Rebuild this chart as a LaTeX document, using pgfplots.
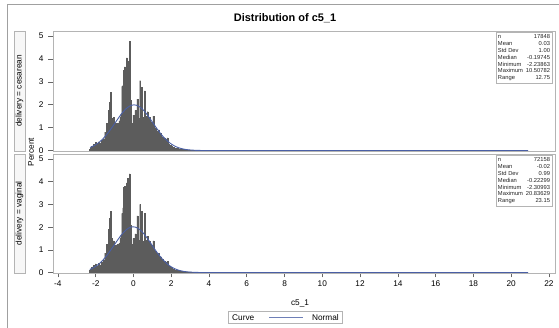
\documentclass[border=0pt]{standalone}
\usepackage{fontspec}
\setmainfont{Liberation Sans}
\usepackage{pgfplots}
\usepackage{pgfplotstable}
\pgfplotsset{compat=1.18}

\definecolor{barfill}{HTML}{383838}
\definecolor{baredge}{HTML}{5C5C5C}
\definecolor{fitblue}{HTML}{4A5FA5}
\definecolor{wallgray}{HTML}{B4B4B4}
\definecolor{framegray}{HTML}{A0A0A0}

% Histogram of c5_1 (percent per 0.05-wide bin), delivery = cesarean
\pgfplotstableread{
x y
-2.30 0.06
-2.25 0.12
-2.20 0.18
-2.15 0.20
-2.10 0.28
-2.05 0.22
-2.00 0.35
-1.95 0.28
-1.90 0.25
-1.85 0.38
-1.80 0.32
-1.75 0.28
-1.70 0.45
-1.65 0.35
-1.60 0.50
-1.55 0.42
-1.50 0.80
-1.45 0.60
-1.40 1.20
-1.35 0.95
-1.30 1.75
-1.25 2.10
-1.20 2.55
-1.15 1.40
-1.10 1.00
-1.05 1.45
-1.00 1.05
-0.95 1.20
-0.90 0.95
-0.85 1.20
-0.80 1.05
-0.75 1.30
-0.70 1.45
-0.65 1.60
-0.60 2.80
-0.55 2.85
-0.50 3.50
-0.45 3.65
-0.40 2.60
-0.35 4.05
-0.30 3.90
-0.25 3.70
-0.20 4.78
-0.15 2.20
-0.10 1.20
-0.05 0.90
0.00 1.55
0.05 1.20
0.10 1.75
0.15 1.10
0.20 2.25
0.25 1.40
0.30 1.30
0.35 3.05
0.40 2.60
0.45 2.75
0.50 1.45
0.55 1.20
0.60 2.60
0.65 1.50
0.70 1.00
0.75 1.70
0.80 1.20
0.85 1.45
0.90 1.00
0.95 1.25
1.00 0.95
1.05 1.50
1.10 0.80
1.15 1.00
1.20 0.70
1.25 0.85
1.30 0.75
1.35 0.90
1.40 0.60
1.45 0.75
1.50 0.55
1.55 0.60
1.60 0.45
1.65 0.55
1.70 0.40
1.75 0.50
1.80 0.55
1.85 0.30
1.90 0.25
1.95 0.22
2.00 0.20
2.05 0.16
2.10 0.15
2.15 0.13
2.20 0.12
2.25 0.11
2.30 0.10
2.35 0.09
2.40 0.08
2.45 0.07
2.50 0.07
2.55 0.06
2.60 0.05
2.65 0.05
2.70 0.04
2.75 0.04
2.80 0.035
2.85 0.03
2.90 0.03
2.95 0.025
3.00 0.025
3.05 0.02
3.10 0.02
3.15 0.02
3.20 0.018
3.30 0.015
3.40 0.015
3.50 0.012
3.60 0.012
3.70 0.010
3.80 0.010
3.90 0.010
4.00 0.008
4.20 0.008
4.40 0.006
4.60 0.006
4.80 0.005
5.00 0.005
5.20 0.004
6.00 0.003
7.50 0.003
10.50 0.003
}\histces

% Histogram of c5_1, delivery = vaginal
\pgfplotstableread{
x y
-2.30 0.10
-2.25 0.16
-2.20 0.22
-2.15 0.25
-2.10 0.32
-2.05 0.28
-2.00 0.38
-1.95 0.30
-1.90 0.28
-1.85 0.40
-1.80 0.35
-1.75 0.30
-1.70 0.45
-1.65 0.38
-1.60 0.55
-1.55 0.45
-1.50 0.85
-1.45 0.65
-1.40 1.25
-1.35 1.00
-1.30 1.90
-1.25 2.40
-1.20 2.70
-1.15 1.50
-1.10 1.05
-1.05 1.40
-1.00 1.10
-0.95 1.20
-0.90 1.00
-0.85 1.25
-0.80 1.10
-0.75 1.30
-0.70 1.50
-0.65 1.65
-0.60 2.60
-0.55 2.85
-0.50 3.75
-0.45 3.80
-0.40 2.65
-0.35 3.95
-0.30 4.15
-0.25 3.60
-0.20 4.35
-0.15 2.10
-0.10 1.25
-0.05 1.00
0.00 1.50
0.05 1.25
0.10 1.70
0.15 1.15
0.20 2.50
0.25 1.45
0.30 1.35
0.35 3.00
0.40 2.45
0.45 2.70
0.50 1.40
0.55 1.25
0.60 2.60
0.65 1.45
0.70 1.05
0.75 1.60
0.80 1.20
0.85 1.40
0.90 1.00
0.95 1.20
1.00 0.95
1.05 1.40
1.10 0.80
1.15 0.95
1.20 0.70
1.25 0.85
1.30 0.75
1.35 0.85
1.40 0.60
1.45 0.70
1.50 0.55
1.55 0.60
1.60 0.45
1.65 0.50
1.70 0.40
1.75 0.45
1.80 0.50
1.85 0.30
1.90 0.28
1.95 0.22
2.00 0.20
2.05 0.16
2.10 0.15
2.15 0.13
2.20 0.12
2.25 0.11
2.30 0.10
2.35 0.09
2.40 0.08
2.45 0.07
2.50 0.07
2.55 0.06
2.60 0.05
2.65 0.05
2.70 0.04
2.75 0.04
2.80 0.035
2.85 0.03
2.90 0.03
2.95 0.025
3.00 0.025
3.05 0.02
3.10 0.02
3.15 0.02
3.20 0.018
3.30 0.015
3.40 0.015
3.50 0.012
3.60 0.012
3.70 0.010
3.80 0.010
3.90 0.010
4.00 0.008
4.20 0.008
4.40 0.006
4.60 0.006
4.80 0.005
5.00 0.005
5.20 0.004
6.00 0.003
7.50 0.003
10.50 0.003
12.00 0.003
15.50 0.003
20.80 0.003
}\histvag

\pgfplotsset{
  panel/.style={
    scale only axis, width=502bp, height=120bp,
    anchor=south west,
    xmin=-4.26, xmax=22.32, ymin=-0.02, ymax=5.22,
    axis line style={wallgray, line width=0.6bp},
    tick align=outside, major tick length=4.5bp,
    tick style={black!60, line width=0.6bp},
    tick pos=left,
    ytick={0,1,2,3,4,5}, yticklabels={0,1,2,3,4,5},
    xtick={-4,-2,0,2,4,6,8,10,12,14,16,18,20,22},
    xticklabels={-4,-2,0,2,4,6,8,10,12,14,16,18,20,22},
    ticklabel style={font=\fontsize{8.3}{10}\selectfont},
    yticklabel style={xshift=-1.5bp},
  },
  hist/.style={ybar, bar width=0.05, bar shift=0pt, fill=barfill,
    draw=baredge, line width=0.15bp},
  fit/.style={fitblue, line width=0.9bp, line join=round},
}
\tikzset{
  statbox/.style={anchor=north east, draw=wallgray, fill=white,
    inner sep=1.8bp, font=\fontsize{5.8}{6.8}\selectfont, text=black!85},
}

\begin{document}
\begin{tikzpicture}
\useasboundingbox (0,0) rectangle (559bp,328bp);

% outer frame of the graph
\draw[framegray, line width=0.8bp] (7bp,0) -- (7bp,324bp) -- (559bp,324bp);

% title
\node[font=\bfseries\fontsize{11}{13}\selectfont] at (285bp,310bp) {Distribution of c5\_1};

% class strips
\draw[wallgray, fill=black!3, line width=0.6bp] (14bp,177bp) rectangle (25bp,297bp);
\node[rotate=90, font=\fontsize{8.3}{10}\selectfont] at (19.5bp,237bp) {delivery = cesarean};
\draw[wallgray, fill=black!3, line width=0.6bp] (14bp,55bp) rectangle (25bp,174bp);
\node[rotate=90, font=\fontsize{8.3}{10}\selectfont] at (19.5bp,114.5bp) {delivery = vaginal};

% shared y label and x label
\node[rotate=90, font=\fontsize{8.3}{10}\selectfont] at (31bp,176bp) {Percent};
\node[font=\fontsize{8.3}{10}\selectfont] at (300bp,25bp) {c5\_1};

% legend
\draw[wallgray, line width=0.6bp] (228bp,5bp) rectangle (342bp,17bp);
\node[anchor=base west, font=\fontsize{8.3}{10}\selectfont, inner sep=0pt] at (232bp,8bp) {Curve};
\draw[fitblue!80, line width=0.9bp] (269bp,11bp) -- (303bp,11bp);
\node[anchor=base east, font=\fontsize{8.3}{10}\selectfont, inner sep=0pt] at (339bp,8bp) {Normal};

% delivery = cesarean
\begin{axis}[panel, at={(53bp,177bp)}, xtick=\empty]
  \addplot[hist] table[x=x, y=y] {\histces};
  \addplot[fit] coordinates {
    (-2.30,0.132) (-2.22,0.159) (-2.095,0.209) (-1.97,0.270) (-1.845,0.344)
    (-1.72,0.431) (-1.595,0.533) (-1.47,0.648) (-1.345,0.775) (-1.22,0.913)
    (-1.095,1.059) (-0.97,1.210) (-0.845,1.360) (-0.72,1.506) (-0.595,1.641)
    (-0.47,1.760) (-0.345,1.859) (-0.22,1.933) (-0.095,1.979) (0.03,1.995)
    (0.155,1.979) (0.28,1.933) (0.405,1.859) (0.53,1.760) (0.655,1.641)
    (0.78,1.506) (0.905,1.360) (1.03,1.210) (1.155,1.059) (1.28,0.913)
    (1.405,0.775) (1.53,0.648) (1.655,0.533) (1.78,0.431) (1.905,0.344)
    (2.03,0.270) (2.155,0.209) (2.28,0.159) (2.405,0.119) (2.53,0.088)
    (2.655,0.064) (2.78,0.045) (2.905,0.032) (3.03,0.022) (3.28,0.010)
    (3.53,0.004) (4.03,0.001) (5.03,0) (20.9,0)};
  \node[statbox] at (rel axis cs:0.994,0.99) {%
    \begin{tabular*}{52bp}{@{}l@{\extracolsep{\stretch{1}}}r@{}}
      n & 17848\\ Mean & 0.03\\ Std Dev & 1.00\\ Median & -0.19745\\
      Minimum & -2.23863\\ Maximum & 10.50782\\ Range & 12.75
    \end{tabular*}};
\end{axis}

% delivery = vaginal
\begin{axis}[panel, at={(53bp,55bp)}, height=119bp]
  \addplot[hist] table[x=x, y=y] {\histvag};
  \addplot[fit] coordinates {
    (-2.31,0.139) (-2.248,0.161) (-2.124,0.211) (-2.00,0.273) (-1.876,0.347)
    (-1.753,0.435) (-1.629,0.538) (-1.505,0.655) (-1.381,0.783) (-1.258,0.922)
    (-1.134,1.070) (-1.01,1.222) (-0.886,1.374) (-0.763,1.521) (-0.639,1.658)
    (-0.515,1.778) (-0.391,1.878) (-0.268,1.953) (-0.144,1.999) (-0.02,2.015)
    (0.104,1.999) (0.228,1.953) (0.351,1.878) (0.475,1.778) (0.599,1.658)
    (0.723,1.521) (0.846,1.374) (0.97,1.222) (1.094,1.070) (1.218,0.922)
    (1.341,0.783) (1.465,0.655) (1.589,0.538) (1.713,0.435) (1.836,0.347)
    (1.96,0.273) (2.084,0.211) (2.208,0.161) (2.331,0.120) (2.455,0.089)
    (2.579,0.065) (2.703,0.045) (2.826,0.032) (2.95,0.022) (3.198,0.010)
    (3.445,0.004) (3.94,0.001) (4.93,0) (20.9,0)};
  \node[statbox] at (rel axis cs:0.994,0.99) {%
    \begin{tabular*}{52bp}{@{}l@{\extracolsep{\stretch{1}}}r@{}}
      n & 72158\\ Mean & -0.02\\ Std Dev & 0.99\\ Median & -0.22299\\
      Minimum & -2.30993\\ Maximum & 20.83629\\ Range & 23.15
    \end{tabular*}};
\end{axis}
\end{tikzpicture}
\end{document}
